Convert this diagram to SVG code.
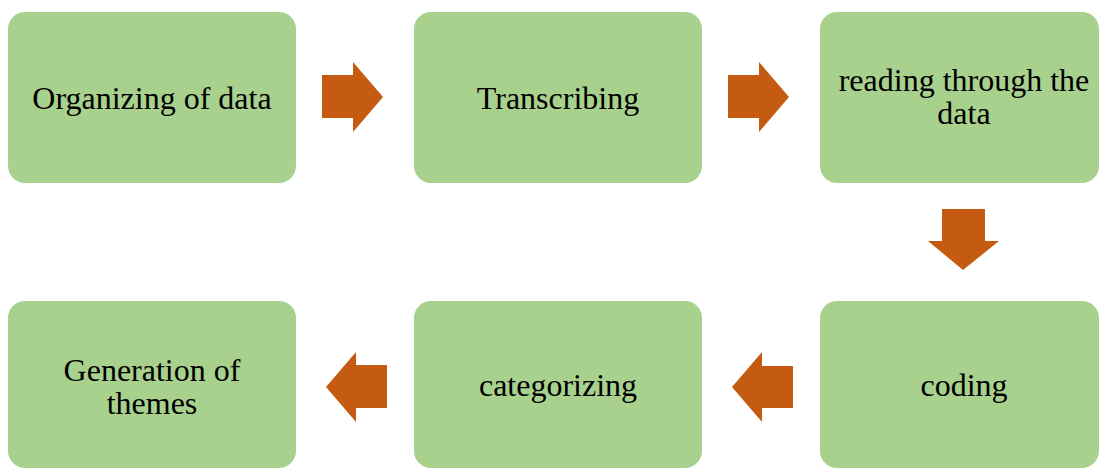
<svg xmlns="http://www.w3.org/2000/svg" width="1100" height="468" viewBox="0 0 1100 468">
  <style>
    .box { fill: #A9D18E; }
    .arrow { fill: #C55A11; }
    .label { font-family: "Liberation Serif", "Times New Roman", serif; font-size: 32px; fill: #000; text-anchor: middle; }
  </style>
  <rect width="1100" height="468" fill="#FFFFFF"/>

  <!-- process steps -->
  <g id="step-organizing">
    <rect class="box" x="8" y="12" width="288" height="171" rx="17"/>
    <text class="label" x="152" y="109">Organizing of data</text>
  </g>
  <g id="step-transcribing">
    <rect class="box" x="414" y="12" width="288" height="171" rx="17"/>
    <text class="label" x="558" y="109">Transcribing</text>
  </g>
  <g id="step-reading">
    <rect class="box" x="820" y="12" width="279" height="171" rx="17"/>
    <text class="label" x="964" y="91">reading through the</text>
    <text class="label" x="964" y="124">data</text>
  </g>
  <g id="step-coding">
    <rect class="box" x="820" y="301" width="279" height="167" rx="17"/>
    <text class="label" x="964" y="396">coding</text>
  </g>
  <g id="step-categorizing">
    <rect class="box" x="414" y="301" width="288" height="167" rx="17"/>
    <text class="label" x="558" y="396">categorizing</text>
  </g>
  <g id="step-themes">
    <rect class="box" x="8" y="301" width="288" height="167" rx="17"/>
    <text class="label" x="152" y="381">Generation of</text>
    <text class="label" x="152" y="414">themes</text>
  </g>

  <!-- block arrows between steps -->
  <g id="connectors">
    <polygon class="arrow" points="322,75 353,75 353,62 383,97 353,132 353,118 322,118"/>
    <polygon class="arrow" points="728,75 759,75 759,62 789,97 759,132 759,118 728,118"/>
    <polygon class="arrow" points="942,209 985,209 985,241 999,241 963,270 928,241 942,241"/>
    <polygon class="arrow" points="793,366 762,366 762,352 732,387 762,422 762,408 793,408"/>
    <polygon class="arrow" points="387,365 356,365 356,352 326,387 356,422 356,408 387,408"/>
  </g>
</svg>
